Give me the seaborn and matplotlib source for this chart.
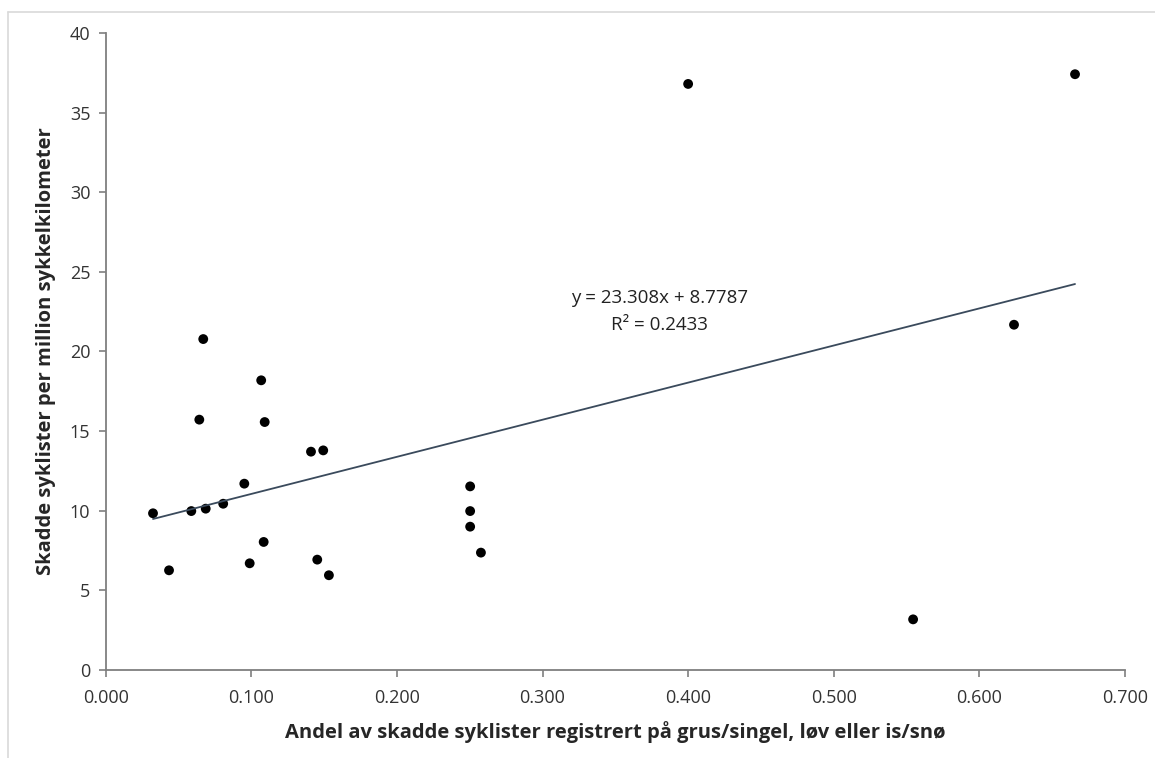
import numpy as np
import pandas as pd
import seaborn as sns
import matplotlib.pyplot as plt
from matplotlib.lines import Line2D

# andel skadde registrert paa grus/singel, loev eller is/snoe
andel = [0.0325, 0.0435, 0.0588, 0.0643, 0.0670, 0.0687, 0.0807, 0.0952,
         0.0989, 0.1068, 0.1085, 0.1092, 0.1410, 0.1453, 0.1494, 0.1533,
         0.2503, 0.2503, 0.2503, 0.2577, 0.4000, 0.5545, 0.6238, 0.6657]
# skadde syklister per million sykkelkilometer
skadde = [9.84, 6.26, 9.98, 15.72, 20.78, 10.13, 10.44, 11.70,
          6.70, 18.19, 8.04, 15.57, 13.71, 6.93, 13.79, 5.95,
          11.53, 9.98, 9.00, 7.37, 36.80, 3.18, 21.68, 37.41]

xticks = [0.0, 0.1, 0.2, 0.3, 0.4, 0.5, 0.6, 0.7]
yticks = [0, 5, 10, 15, 20, 25, 30, 35, 40]
eq_text = "y = 23.308x + 8.7787"
r2_text = "R\u00b2 = 0.2433"

df = pd.DataFrame({"andel": andel, "skadde": skadde})

sns.set_style("white")
plt.rcParams['font.family'] = ['Open Sans', 'DejaVu Sans']

fig = plt.figure(figsize=(11.55, 7.58), dpi=100)
ax = fig.add_axes([0.0915, 0.1161, 0.8825, 0.8404])

sns.regplot(data=df, x="andel", y="skadde", ax=ax, ci=None,
            scatter_kws={"s": 50, "color": "black", "edgecolor": "none", "alpha": 1},
            line_kws={"color": "#3a4a5c", "linewidth": 1.3})

ax.set_xlim(0, 0.7)
ax.set_ylim(0, 40)
ax.set_xticks(xticks)
ax.set_xticklabels([f"{t:.3f}" for t in xticks])
ax.set_yticks(yticks)
ax.tick_params(axis="both", direction="out", length=5, width=1.2, color="#7f7f7f",
               labelsize=13, labelcolor="#333333", bottom=True, left=True)
ax.tick_params(axis="x", pad=9)
ax.tick_params(axis="y", pad=6)
for side in ["top", "right"]:
    ax.spines[side].set_visible(False)
for side in ["left", "bottom"]:
    ax.spines[side].set_color("#7f7f7f")
    ax.spines[side].set_linewidth(1.3)

ax.set_xlabel("Andel av skadde syklister registrert på grus/singel, løv eller is/snø",
              fontsize=14.5, fontweight="bold", labelpad=10)
ax.set_ylabel("Skadde syklister per million sykkelkilometer",
              fontsize=14.5, fontweight="bold", labelpad=10)

ax.text(0.3806, 23.36, eq_text, ha="center", va="center", fontsize=13.5, color="#222222")
ax.text(0.3806, 21.66, r2_text, ha="center", va="center", fontsize=13.5, color="#222222")

# thin light frame around the figure, like the source screenshot
fig.add_artist(Line2D([0.007, 1.0], [0.984, 0.984], color="#d9d9d9", lw=1.2))
fig.add_artist(Line2D([0.007, 0.007], [0.0, 0.984], color="#d9d9d9", lw=1.2))

plt.savefig("out.png", dpi=100)
